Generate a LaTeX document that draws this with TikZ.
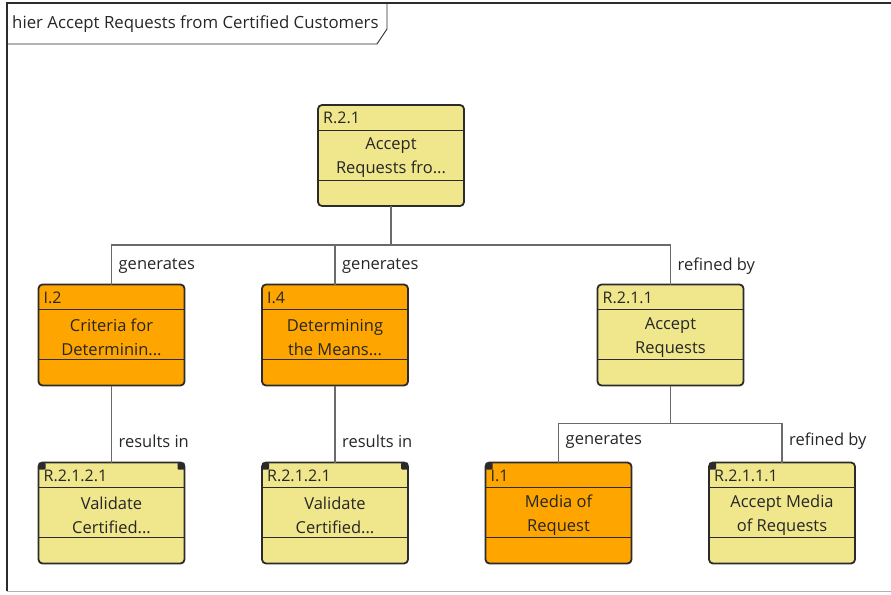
\documentclass[tikz,border=0pt]{standalone}
\usepackage{fontspec}
\setmainfont{Open Sans}
\usetikzlibrary{calc}
\definecolor{reqyellow}{HTML}{F0E68C}
\definecolor{infoorange}{HTML}{FFA500}
\definecolor{boxline}{HTML}{2B2B2B}
\definecolor{linkgray}{HTML}{6A6A6A}
\definecolor{txtgray}{HTML}{262626}

\newcommand{\reqbox}[5]{%
  \node[box, fill=#3] (#1) at (#2) {};
  \draw[sep] ([yshift=-25pt]#1.north west) -- ([yshift=-25pt]#1.north east);
  \draw[sep] ([yshift=-75pt]#1.north west) -- ([yshift=-75pt]#1.north east);
  \node[idtxt] (#1-id) at ([shift={(5,13)}]#1.north west) {#4};
  \node[bodytxt] (#1-body) at ([yshift=-53pt]#1.north) {#5};
}
\newcommand{\boxmarkL}[1]{\fill[boxline, rounded corners=1pt] (#1.north west) rectangle ++(7,7);}
\newcommand{\boxmarkR}[1]{\fill[boxline, rounded corners=1pt] (#1.north east) rectangle ++(-7,7);}

\begin{document}
\begin{tikzpicture}[x=1pt, y=-1pt,
  box/.style={draw=boxline, line width=1.8pt, rounded corners=4pt, minimum width=146pt,
    minimum height=101pt, inner sep=0pt, outer sep=0pt},
  sep/.style={draw=boxline, line width=0.9pt},
  idtxt/.style={anchor=west, inner sep=0pt, text=txtgray, font=\fontsize{16}{18}\selectfont},
  bodytxt/.style={align=center, inner sep=0pt, text=txtgray, font=\fontsize{16.5}{24}\selectfont},
  link/.style={draw=linkgray, line width=1.2pt},
  lbl/.style={anchor=west, inner sep=0pt, text=txtgray, font=\fontsize{16.5}{18}\selectfont}]
  \useasboundingbox (0,0) rectangle (891,594);
  \draw[gray!60, line width=1pt] (7,591) -- (891,591);
  \draw[boxline, line width=2.2pt] (891,3) -- (7,3) -- (7,591);
  \draw[boxline, line width=0.9pt] (7,3) -- (387,3) -- (387,29) -- (377,44) -- (7,44);
  \node[lbl, font=\fontsize{16.8}{18}\selectfont] (title) at (12,24) {hier Accept Requests from Certified Customers};

  \reqbox{r21}{391,155.5}{reqyellow}{R.2.1}{Accept\\Requests fro...}
  \reqbox{i2}{111.5,335}{infoorange}{I.2}{Criteria for\\Determinin...}
  \reqbox{i4}{335,335}{infoorange}{I.4}{Determining\\the Means...}
  \reqbox{r211}{670.5,335}{reqyellow}{R.2.1.1}{Accept\\Requests}
  \reqbox{r2121a}{111.5,513}{reqyellow}{R.2.1.2.1}{Validate\\Certified...}
  \reqbox{r2121b}{335,513}{reqyellow}{R.2.1.2.1}{Validate\\Certified...}
  \reqbox{i1}{558.5,513}{infoorange}{I.1}{Media of\\Request}
  \reqbox{r2111}{782,513}{reqyellow}{R.2.1.1.1}{Accept Media\\of Requests}
  \boxmarkL{r2121a}
  \boxmarkR{r2121a}
  \boxmarkL{r2121b}
  \boxmarkR{r2121b}
  \boxmarkL{i1}
  \boxmarkL{r2111}

  \draw[link] (r21.south) -- ++(0,39) -| (i2.north);
  \draw[link] (r21.south) -- ++(0,39) -| (i4.north);
  \draw[link] (r21.south) -- ++(0,39) -| (r211.north);
  \draw[link] (i2.south) -- (r2121a.north);
  \draw[link] (i4.south) -- (r2121b.north);
  \draw[link] (r211.south) -- ++(0,38) -| (i1.north);
  \draw[link] (r211.south) -- ++(0,38) -| (r2111.north);

  \node[lbl] (gen1) at ([shift={(7,-18)}]i2.north) {generates};
  \node[lbl] (gen2) at ([shift={(7,-18)}]i4.north) {generates};
  \node[lbl] (ref1) at ([shift={(7,-18)}]r211.north) {refined by};
  \node[lbl] (res1) at ([shift={(7,-21)}]r2121a.north) {results in};
  \node[lbl] (res2) at ([shift={(7,-21)}]r2121b.north) {results in};
  \node[lbl] (gen3) at ([shift={(7,-21)}]i1.north) {generates};
  \node[lbl] (ref2) at ([shift={(7,-21)}]r2111.north) {refined by};
\end{tikzpicture}
\end{document}
